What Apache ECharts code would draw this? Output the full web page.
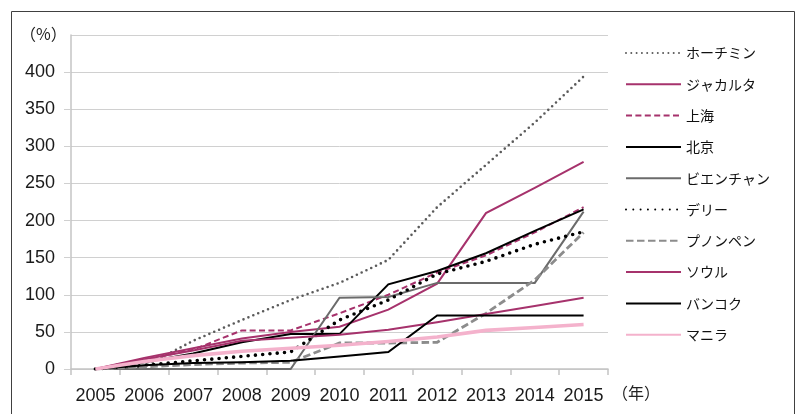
<!DOCTYPE html>
<html>
<head>
<meta charset="utf-8">
<script src="https://cdn.jsdelivr.net/npm/echarts@6/dist/echarts.min.js"></script>
<style>
html,body{margin:0;padding:0;background:#fff;}
#chart{width:797px;height:414px;}
</style>
</head>
<body>
<div id="chart"></div>
<script>
const years = ['2005','2006','2007','2008','2009','2010','2011','2012','2013','2014','2015'];
const yTicks = [0, 450, 50];
const yUnit = '（%）';
const xUnit = '（年）';

const hoChiMinh  = [0, 3, 38, 66, 93, 116, 147, 218, 275, 332, 394];
const jakarta    = [0, 15, 28, 41, 50, 57, 80, 115, 210, 244, 279];
const shanghai   = [0, 12, 26, 52, 52, 75, 100, 130, 153, 184, 218];
const beijing    = [0, 9, 21, 36, 47, 47, 114, 132, 156, 186, 215];
const vientiane  = [0, 0, 0, 0, 0, 96, 97, 116, 116, 116, 212];
const delhi      = [0, 5, 11, 17, 23, 66, 93, 128, 145, 168, 185];
const phnomPenh  = [0, 3, 6, 8, 9, 35, 35, 36, 75, 120, 184];
const seoul      = [0, 13, 25, 38, 42, 46, 53, 63, 74, 85, 96];
const bangkok    = [0, 5, 8, 9, 11, 17, 23, 72, 72, 72, 72];
const manila     = [0, 10, 18, 24, 28, 32, 37, 43, 52, 56, 60];

const names = ['ホーチミン','ジャカルタ','上海','北京','ビエンチャン','デリー','プノンペン','ソウル','バンコク','マニラ'];
const values = [hoChiMinh, jakarta, shanghai, beijing, vientiane, delhi, phnomPenh, seoul, bangkok, manila];

const MAG = '#A6326C';
const styles = [
  {color:'#5a5a5a', width:2.6, type:[0,5.3], cap:'round'},
  {color:MAG, width:2, type:'solid'},
  {color:MAG, width:2, type:[6,3.4], cap:'butt'},
  {color:'#000000', width:2, type:'solid'},
  {color:'#6b6b6b', width:2, type:'solid'},
  {color:'#000000', width:3.6, type:[0,7.3], cap:'round'},
  {color:'#8c8c8c', width:2.8, type:[7.5,3.5], cap:'butt'},
  {color:MAG, width:2, type:'solid'},
  {color:'#000000', width:2, type:'solid'},
  {color:'#F4B2CC', width:3.6, type:'solid'}
];

const FONT = '"Liberation Sans", Arial, sans-serif';
const JFONT = '"Noto Sans CJK JP", sans-serif';

const series = names.map((n, i) => ({
  name: n,
  type: 'line',
  data: values[i],
  symbol: 'none',
  smooth: false,
  silent: true,
  lineStyle: {
    color: styles[i].color,
    width: styles[i].width,
    type: styles[i].type,
    cap: styles[i].cap || 'butt',
    join: 'miter'
  },
  itemStyle: {color: styles[i].color}
}));

const chart = echarts.init(document.getElementById('chart'), null, {renderer: 'canvas'});
chart.setOption({
  animation: false,
  backgroundColor: '#ffffff',
  grid: {left: 71, right: 189, top: 35, bottom: 45, containLabel: false},
  legend: {
    orient: 'vertical',
    left: 625,
    top: 46,
    padding: 0,
    itemWidth: 55,
    itemHeight: 14,
    itemGap: 17.3,
    selectedMode: false,
    itemStyle: {color: 'rgba(0,0,0,0)', borderWidth: 0, opacity: 0},
    textStyle: {fontFamily: JFONT, fontSize: 14, color: '#111'},
    data: names
  },
  xAxis: {
    type: 'category',
    data: years,
    boundaryGap: true,
    axisLine: {show: true, lineStyle: {color: '#c4c4c4', width: 1.5}},
    axisTick: {show: true, length: 6, alignWithLabel: false, lineStyle: {color: '#c4c4c4', width: 1.5}},
    axisLabel: {fontFamily: FONT, fontSize: 18, color: '#1a1a1a', margin: 18, interval: 0},
    splitLine: {show: false}
  },
  yAxis: {
    type: 'value',
    min: yTicks[0],
    max: yTicks[1],
    interval: yTicks[2],
    axisLine: {show: true, lineStyle: {color: '#c4c4c4', width: 1.5}},
    axisTick: {show: true, length: 7, inside: false, lineStyle: {color: '#d0d0d0', width: 1}},
    axisLabel: {fontFamily: FONT, fontSize: 18, color: '#1a1a1a', margin: 16, showMaxLabel: false,
      formatter: v => (v >= yTicks[1] ? '' : String(v))},
    splitLine: {show: true, lineStyle: {color: '#d0d0d0', width: 1}}
  },
  graphic: [
    {type: 'rect', silent: true, z: -1,
     shape: {x: 11.5, y: 11.5, width: 783, height: 480},
     style: {fill: 'none', stroke: '#404040', lineWidth: 1}},
    {type: 'text', left: 20, top: 26,
     style: {text: yUnit, fontFamily: JFONT, fontSize: 16, fill: '#222'}},
    {type: 'text', left: 612, top: 385,
     style: {text: xUnit, fontFamily: JFONT, fontSize: 16, fill: '#222'}}
  ],
  series: series
});
</script>
</body>
</html>
